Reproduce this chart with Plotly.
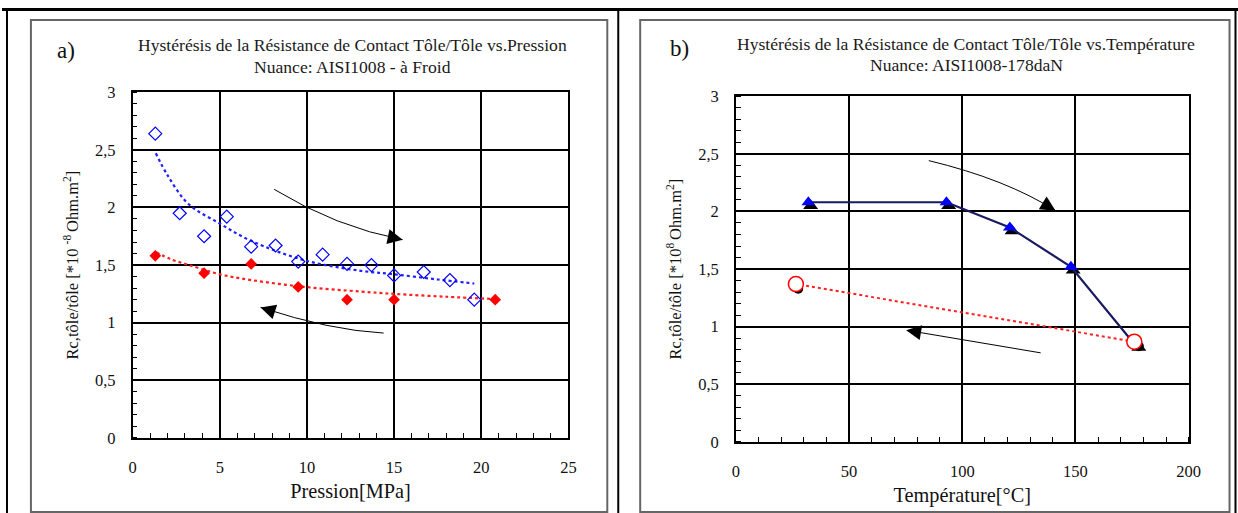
import plotly.graph_objects as go

# ---------------- data : panel a) Rc vs pressure ----------------
press_load = [1.3, 2.7, 4.1, 5.4, 6.8, 8.2, 9.5, 10.9, 12.3, 13.7, 15.0, 16.7, 18.2, 19.6]
rc_load = [2.64, 1.95, 1.75, 1.92, 1.66, 1.67, 1.53, 1.59, 1.51, 1.50, 1.41, 1.44, 1.37, 1.20]
press_unload = [1.3, 4.1, 6.8, 9.5, 12.3, 15.0, 20.8]
rc_unload = [1.58, 1.43, 1.51, 1.31, 1.20, 1.20, 1.20]
# trend curves
trend_load_x = [1.33, 2.0, 3.2, 5.0, 6.8, 9.9, 13.1, 15.0, 17.5, 19.6]
trend_load_y = [2.47, 2.28, 2.03, 1.86, 1.71, 1.54, 1.45, 1.42, 1.375, 1.34]
trend_unload_x = [1.37, 2.2, 3.24, 5.0, 6.8, 9.9, 13.1, 15.0, 18.0, 20.8]
trend_unload_y = [1.61, 1.55, 1.50, 1.42, 1.37, 1.31, 1.27, 1.25, 1.225, 1.205]

# ---------------- data : panel b) Rc vs temperature ----------------
temp_heat = [32, 93, 121, 148, 176]
rc_heat = [2.08, 2.08, 1.86, 1.52, 0.85]
temp_heat_meas = [33, 94, 122, 149, 178]
rc_heat_meas = [2.05, 2.05, 1.83, 1.49, 0.82]
temp_cool = [176, 26.5]
rc_cool = [0.87, 1.37]
temp_cool_meas = [178, 27.5]
rc_cool_meas = [0.83, 1.33]

# tick labels
xa_ticks = [0, 5, 10, 15, 20, 25]
xb_ticks = [0, 50, 100, 150, 200]
y_ticks = [0, 0.5, 1, 1.5, 2, 2.5, 3]
y_ticktext = ["0", "0,5", "1", "1,5", "2", "2,5", "3"]

# arrows (data coords): start, control, tip
arrow_a_up = [(8.12, 2.157), (11.67, 1.83), (15.49, 1.72)]
arrow_a_down = [(14.4, 0.91), (11.33, 0.934), (7.34, 1.133)]
arrow_b_up = [(85.2, 2.441), (119.3, 2.280), (141.2, 2.007)]
arrow_b_down = [(135.3, 0.771), (75.2, 0.970)]

# ---- page geometry (target pixel positions -> paper fractions)
AX, BX = 2.0, 0.99
AY, BY = 9.0, 0.962
FW, FH = 1250, 530
def px(x):
    return ((x - AX) / BX) / FW
def py(y):
    return 1 - ((y - AY) / BY) / FH

SERIF = "Liberation Serif"
fig = go.Figure()

# ---- panel a traces
fig.add_trace(go.Scatter(x=trend_load_x, y=trend_load_y, mode="lines", line=dict(color="#1f1fff", width=2.2, dash="dot", shape="spline"), xaxis="x", yaxis="y", showlegend=False))
fig.add_trace(go.Scatter(x=trend_unload_x, y=trend_unload_y, mode="lines", line=dict(color="#ff2020", width=2.2, dash="dot", shape="spline"), xaxis="x", yaxis="y", showlegend=False))
fig.add_trace(go.Scatter(x=press_load, y=rc_load, mode="markers", marker=dict(symbol="diamond-open", size=10, color="#0000ff", line=dict(width=1.2)), xaxis="x", yaxis="y", showlegend=False))
fig.add_trace(go.Scatter(x=press_unload, y=rc_unload, mode="markers", marker=dict(symbol="diamond", size=9, color="#ff0000"), xaxis="x", yaxis="y", showlegend=False))

# ---- panel b traces
fig.add_trace(go.Scatter(x=temp_cool, y=rc_cool, mode="lines", line=dict(color="#ff2020", width=2, dash="dot"), xaxis="x2", yaxis="y2", showlegend=False))
fig.add_trace(go.Scatter(x=temp_heat_meas, y=rc_heat_meas, mode="markers", marker=dict(symbol="triangle-up", size=13, color="#000000"), xaxis="x2", yaxis="y2", showlegend=False))
fig.add_trace(go.Scatter(x=temp_heat, y=rc_heat, mode="lines+markers", line=dict(color="#1a1a60", width=2.2), marker=dict(symbol="triangle-up", size=12, color="#0000ff"), xaxis="x2", yaxis="y2", showlegend=False))
fig.add_trace(go.Scatter(x=temp_cool_meas, y=rc_cool_meas, mode="markers", marker=dict(symbol="circle", size=10, color="#000000"), xaxis="x2", yaxis="y2", showlegend=False))
fig.add_trace(go.Scatter(x=temp_cool, y=rc_cool, mode="markers", marker=dict(symbol="circle", size=15, color="white", line=dict(color="#ff0000", width=1.5)), xaxis="x2", yaxis="y2", showlegend=False))

axis_common = dict(showgrid=True, gridcolor="#000000", gridwidth=1.6, showline=True, linecolor="#000000",
                   linewidth=1.6, mirror=True, ticks="", zeroline=False,
                   tickfont=dict(family=SERIF, size=16.5, color="#111111"))
TFS = 20.3
YTS = 16.5
fig.update_layout(
    width=FW, height=FH, margin=dict(l=0, r=0, t=0, b=0),
    paper_bgcolor="white", plot_bgcolor="white",
    font=dict(family=SERIF, color="#111111"),
    xaxis=dict(domain=[px(131), px(568)], range=[0, 25], tickvals=xa_ticks, ticktext=[str(t) for t in xa_ticks],
               minor=dict(ticks="inside", dtick=1, ticklen=5, tickcolor="#000", showgrid=False),
               ticklabelstandoff=13, anchor="y",
               title=dict(text="Pression[MPa]", font=dict(family=SERIF, size=TFS), standoff=8), **axis_common),
    yaxis=dict(domain=[py(437), py(92)], range=[0, 3], tickvals=y_ticks, ticktext=y_ticktext,
               minor=dict(ticks="inside", dtick=0.1, ticklen=5, tickcolor="#000", showgrid=False),
               ticklabelstandoff=12, anchor="x",
               title=dict(text="Rc,tôle/tôle [*10 <sup>-8 </sup>Ohm.m<sup>2</sup>]", font=dict(family=SERIF, size=YTS), standoff=12), **axis_common),
    xaxis2=dict(domain=[px(736), px(1190)], range=[0, 200], tickvals=xb_ticks, ticktext=[str(t) for t in xb_ticks],
                minor=dict(ticks="inside", dtick=10, ticklen=5, tickcolor="#000", showgrid=False),
                ticklabelstandoff=13, anchor="y2",
                title=dict(text="Température[°C]", font=dict(family=SERIF, size=TFS), standoff=8), **axis_common),
    yaxis2=dict(domain=[py(441), py(96)], range=[0, 3], tickvals=y_ticks, ticktext=y_ticktext,
                minor=dict(ticks="inside", dtick=0.1, ticklen=5, tickcolor="#000", showgrid=False),
                ticklabelstandoff=12, anchor="x2",
                title=dict(text="Rc,tôle/tôle [*10<sup>8 </sup>Ohm.m<sup>2</sup>]", font=dict(family=SERIF, size=YTS), standoff=12), **axis_common),
)

# ---- table / frame decoration
shapes = [
    dict(type="line", xref="paper", yref="paper", x0=px(0), x1=px(1250), y0=py(9.5), y1=py(9.5), line=dict(color="black", width=3)),
    dict(type="line", xref="paper", yref="paper", x0=px(5), x1=px(5), y0=py(9), y1=py(530), line=dict(color="black", width=2)),
    dict(type="line", xref="paper", yref="paper", x0=px(618), x1=px(618), y0=py(9), y1=py(530), line=dict(color="black", width=2)),
    dict(type="line", xref="paper", yref="paper", x0=px(1237), x1=px(1237), y0=py(9), y1=py(530), line=dict(color="black", width=2)),
    dict(type="rect", xref="paper", yref="paper", x0=px(29), x1=px(607), y0=py(511), y1=py(20), line=dict(color="#666666", width=2)),
    dict(type="rect", xref="paper", yref="paper", x0=px(640), x1=px(1231), y0=py(511), y1=py(20), line=dict(color="#666666", width=2)),
]

def bez(p0, c, p2, t):
    return ((1 - t) ** 2 * p0[0] + 2 * (1 - t) * t * c[0] + t ** 2 * p2[0],
            (1 - t) ** 2 * p0[1] + 2 * (1 - t) * t * c[1] + t ** 2 * p2[1])

annotations = []
for arr, xr, yr in [(arrow_a_up, "x", "y"), (arrow_a_down, "x", "y"), (arrow_b_up, "x2", "y2")]:
    p0, c, p2 = arr
    shapes.append(dict(type="path", xref=xr, yref=yr,
                       path=f"M {p0[0]},{p0[1]} Q {c[0]},{c[1]} {p2[0]},{p2[1]}",
                       line=dict(color="black", width=1)))
    tail = bez(p0, c, p2, 0.9)
    annotations.append(dict(x=p2[0], y=p2[1], ax=tail[0], ay=tail[1], xref=xr, yref=yr, axref=xr, ayref=yr,
                            text="", showarrow=True, arrowhead=2, arrowsize=3, arrowwidth=1, arrowcolor="black"))
annotations.append(dict(x=arrow_b_down[1][0], y=arrow_b_down[1][1], ax=arrow_b_down[0][0], ay=arrow_b_down[0][1],
                        xref="x2", yref="y2", axref="x2", ayref="y2", text="", showarrow=True,
                        arrowhead=2, arrowsize=3, arrowwidth=1, arrowcolor="black"))

tfont = dict(family=SERIF, size=17.6, color="#1a1a1a")
def label(text, x, y, font):
    return dict(text=text, x=px(x), y=py(y), xref="paper", yref="paper", xanchor="center", yanchor="middle",
                showarrow=False, font=font)
annotations += [
    label("a)", 64, 50, dict(family=SERIF, size=23, color="#111")),
    label("b)", 679, 48, dict(family=SERIF, size=23, color="#111")),
    label("Hystérésis de la Résistance de Contact Tôle/Tôle vs.Pression", 351, 45, tfont),
    label("Nuance: AISI1008 - à Froid", 351, 67, tfont),
    label("Hystérésis de la Résistance de Contact Tôle/Tôle vs.Température", 967, 44, tfont),
    label("Nuance: AISI1008-178daN", 967, 65, tfont),
]
fig.update_layout(shapes=shapes, annotations=annotations)
fig.write_html("out.html", config={"displayModeBar": False},
               post_script="document.body.style.margin='0';document.body.style.padding='0';")
